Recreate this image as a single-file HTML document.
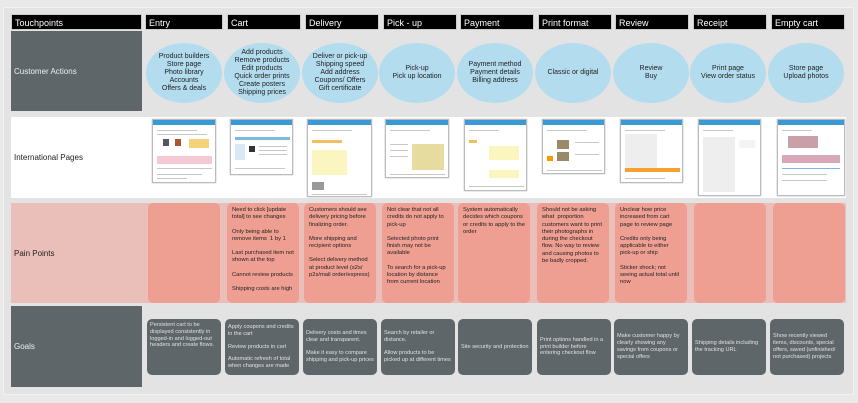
<!DOCTYPE html>
<html><head><meta charset="utf-8">
<style>
*{margin:0;padding:0;box-sizing:border-box}
body{width:858px;height:403px;background:#e9e9e9;position:relative;overflow:hidden;font-family:"Liberation Sans",Arial,sans-serif}
.a{position:absolute}
.panel{left:3px;top:7px;width:851px;height:388px;background:#e3e3e3;border:1px solid #f2f2f2}
.hd{position:absolute;top:14px;height:16px;background:#000;color:#fff;font-size:9px;line-height:16px;padding-left:3px;border:1px solid #ccc}
.lbl{position:absolute;left:11px;width:131px;font-size:8px;padding-left:3px;display:flex;align-items:center}
.dark{background:#5f6669;color:#eee}
.ell{position:absolute;top:43px;width:76px;height:60px;border-radius:50%;background:#b3dcee;font-size:7px;line-height:8px;color:#222;display:flex;align-items:center;justify-content:center;text-align:center}
.pc{position:absolute;top:203px;height:100px;background:#ee9f92;border-radius:5px;font-size:5.8px;line-height:7.3px;color:#222;padding:4px 5px}
.pc p{margin-bottom:7px}
.gc{position:absolute;top:319px;height:56px;background:#5f6669;border-radius:5px;font-size:5.6px;line-height:6.8px;color:#e0e0e0;padding:3px 3px;display:flex;flex-direction:column;justify-content:center}
.gc p{margin-bottom:6px}.gc p:last-child,.pc p:last-child{margin-bottom:0}
.th{position:absolute;top:119px;background:#fff;border:1px solid #bbb;box-shadow:0 0 1px #999;overflow:hidden}
.th:before{content:"";position:absolute;left:0;right:0;top:0;height:5px;background:#3a9ad6}
.th i{position:absolute;left:4px;height:1px;background:#c8c8c8}
</style></head><body>
<div class="a panel"></div>
<div class="a" style="left:11px;top:117px;width:835px;height:81px;background:#fff"></div>
<div class="a" style="left:11px;top:203px;width:835px;height:100px;background:#ebbfb9"></div>

<div class="hd" style="left:11px;width:131px">Touchpoints</div>
<div class="hd" style="left:145px;width:78px">Entry</div>
<div class="hd" style="left:227px;width:74px">Cart</div>
<div class="hd" style="left:305px;width:74px">Delivery</div>
<div class="hd" style="left:383px;width:74px">Pick - up</div>
<div class="hd" style="left:460px;width:74px">Payment</div>
<div class="hd" style="left:538px;width:74px">Print format</div>
<div class="hd" style="left:615px;width:74px">Review</div>
<div class="hd" style="left:693px;width:74px">Receipt</div>
<div class="hd" style="left:771px;width:74px">Empty cart</div>

<div class="lbl dark" style="top:31px;height:80px">Customer Actions</div>
<div class="lbl" style="top:117px;height:81px;color:#222">International Pages</div>
<div class="lbl" style="top:203px;height:100px;color:#222">Pain Points</div>
<div class="lbl dark" style="top:306px;height:81px">Goals</div>

<div class="ell" style="left:146px">Product builders<br>Store page<br>Photo library<br>Accounts<br>Offers &amp; deals</div>
<div class="ell" style="left:224px">Add products<br>Remove products<br>Edit products<br>Quick order prints<br>Create posters<br>Shipping prices</div>
<div class="ell" style="left:302px">Deliver or pick-up<br>Shipping speed<br>Add address<br>Coupons/ Offers<br>Gift certificate</div>
<div class="ell" style="left:379px">Pick-up<br>Pick up location</div>
<div class="ell" style="left:457px">Payment method<br>Payment details<br>Billing address</div>
<div class="ell" style="left:535px">Classic or digital</div>
<div class="ell" style="left:613px">Review<br>Buy</div>
<div class="ell" style="left:690px">Print page<br>View order status</div>
<div class="ell" style="left:768px">Store page<br>Upload photos</div>

<div class="th" style="left:152px;width:64px;height:64px"><i style="top:10px;width:40px"></i><i style="top:14px;width:50px"></i><i style="top:19px;left:10px;width:6px;height:7px;background:#556"></i><i style="top:19px;left:22px;width:6px;height:7px;background:#a53"></i><i style="top:19px;left:36px;width:20px;height:9px;background:#f3d27a"></i><i style="top:36px;width:55px;height:8px;background:#f5c9d4"></i><i style="top:48px;width:55px"></i><i style="top:54px;width:45px"></i><i style="top:58px;width:30px"></i></div>
<div class="th" style="left:230px;width:63px;height:56px"><i style="top:10px;width:40px"></i><i style="top:17px;width:55px;height:3px;background:#7fb7e0"></i><i style="top:24px;width:10px;height:16px;background:#dbe9f6"></i><i style="top:26px;left:18px;width:6px;height:6px;background:#333"></i><i style="top:26px;left:28px;width:28px"></i><i style="top:30px;left:28px;width:28px"></i><i style="top:34px;left:28px;width:28px"></i><i style="top:48px;width:50px"></i></div>
<div class="th" style="left:307px;width:65px;height:78px"><i style="top:10px;width:40px"></i><i style="top:20px;width:30px;height:3px;background:#f3c060"></i><i style="top:30px;width:35px;height:25px;background:#fbf6c0"></i><i style="top:62px;width:12px;height:8px;background:#999"></i><i style="top:74px;width:55px"></i></div>
<div class="th" style="left:385px;width:64px;height:59px"><i style="top:10px;width:40px"></i><i style="top:24px;left:26px;width:32px;height:26px;background:#e6dca0"></i><i style="top:24px;width:18px"></i><i style="top:30px;width:18px"></i><i style="top:36px;width:18px"></i><i style="top:54px;width:55px"></i></div>
<div class="th" style="left:464px;width:63px;height:72px"><i style="top:10px;width:30px"></i><i style="top:20px;width:8px;height:3px;background:#f3c060"></i><i style="top:26px;left:24px;width:30px;height:14px;background:#fbf6c0"></i><i style="top:50px;left:24px;width:30px;height:8px;background:#fbf6c0"></i><i style="top:66px;width:55px"></i></div>
<div class="th" style="left:542px;width:63px;height:55px"><i style="top:10px;width:40px"></i><i style="top:20px;left:14px;width:12px;height:9px;background:#9a8a6a"></i><i style="top:32px;left:14px;width:12px;height:9px;background:#9a8a6a"></i><i style="top:36px;width:6px;height:5px;background:#f90"></i><i style="top:22px;left:32px;width:24px"></i><i style="top:34px;left:32px;width:24px"></i><i style="top:50px;width:55px"></i></div>
<div class="th" style="left:620px;width:63px;height:64px"><i style="top:10px;width:40px"></i><i style="top:14px;width:32px;height:34px;background:#eee"></i><i style="top:48px;width:55px;height:4px;background:#f7a030"></i><i style="top:58px;width:40px"></i></div>
<div class="th" style="left:698px;width:63px;height:77px"><i style="top:10px;width:30px"></i><i style="top:17px;width:32px;height:55px;background:#eee"></i><i style="top:20px;left:40px;width:16px;height:8px;background:#f4f4f4"></i></div>
<div class="th" style="left:777px;width:68px;height:77px"><i style="top:10px;width:30px"></i><i style="top:16px;left:10px;width:30px;height:12px;background:#c9a0a8"></i><i style="top:35px;width:58px;height:8px;background:#d8a8b8"></i><i style="top:48px;width:58px;height:1px;background:#7fb7e0"></i><i style="top:54px;width:45px"></i><i style="top:60px;width:45px"></i></div>

<div class="pc" style="left:148px;width:72px"></div>
<div class="pc" style="left:227px;width:72px"><p>Need to click [update total] to see changes</p><p>Only being able to remove items &nbsp;1 by 1</p><p>Last purchased item not shown at the top</p><p>Cannot review products</p><p>Shipping costs are high</p></div>
<div class="pc" style="left:304px;width:72px"><p>Customers should see delivery pricing before finalizing order.</p><p>More shipping and recipient options</p><p>Select delivery method at product level (s2s/ p2s/mail order/express)</p></div>
<div class="pc" style="left:382px;width:72px"><p>Not clear that not all credits do not apply to pick-up</p><p>Selected photo print finish may not be available</p><p>To search for a pick-up location by distance from current location</p></div>
<div class="pc" style="left:458px;width:72px"><p>System automatically decides which coupons or credits to apply to the order</p></div>
<div class="pc" style="left:537px;width:72px"><p>Should not be asking what &nbsp;proportion customers want to print their photographs in during the checkout flow. No way to review and causing photos to be badly cropped.</p></div>
<div class="pc" style="left:615px;width:72px"><p>Unclear how price increased from cart page to review page</p><p>Credits only being applicable to either pick-up or ship</p><p>Sticker shock; not seeing actual total until now</p></div>
<div class="pc" style="left:694px;width:72px"></div>
<div class="pc" style="left:773px;width:72px"></div>

<div class="gc" style="left:147px;width:74px;justify-content:flex-start"><p>Persistent cart to be displayed consistently in logged-in and logged-out headers and create flows.</p></div>
<div class="gc" style="left:225px;width:74px"><p>Apply coupons and credits in the cart</p><p>Review products in cart</p><p>Automatic refresh of total when changes are made</p></div>
<div class="gc" style="left:303px;width:74px"><p>Delivery costs and times clear and transparent.</p><p>Make it easy to compare shipping and pick-up prices</p></div>
<div class="gc" style="left:381px;width:74px"><p>Search by retailer or distance.</p><p>Allow products to be picked up at different times</p></div>
<div class="gc" style="left:458px;width:74px"><p>Site security and protection</p></div>
<div class="gc" style="left:537px;width:74px"><p>Print options handled in a print builder before entering checkout flow</p></div>
<div class="gc" style="left:614px;width:74px"><p>Make customer happy by clearly showing any savings from coupons or special offers</p></div>
<div class="gc" style="left:692px;width:74px"><p>Shipping details including the tracking URL</p></div>
<div class="gc" style="left:770px;width:74px"><p>Show recently viewed items, discounts, special offers, saved (unfinished/ not purchased) projects</p></div>
</body></html>
